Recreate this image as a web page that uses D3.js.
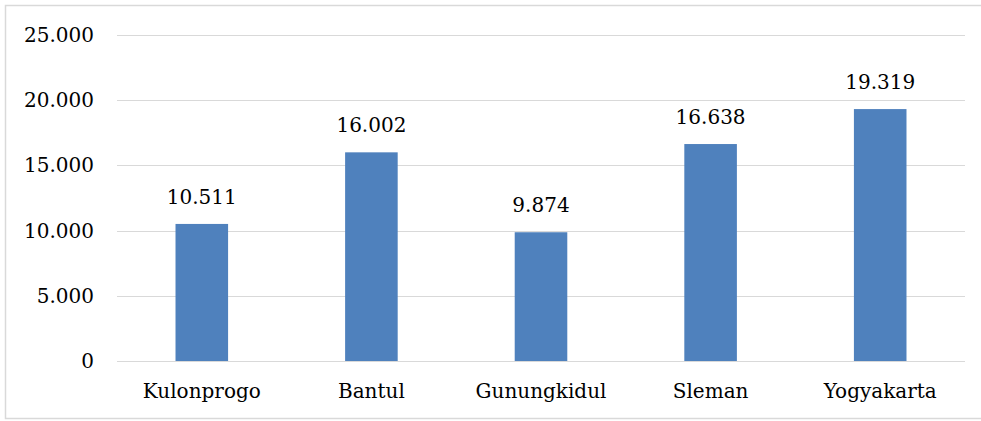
<html>
<head>
  <meta charset="utf-8">
  <script src="https://cdnjs.cloudflare.com/ajax/libs/d3/7.8.5/d3.min.js"></script>
  <style>
    body { margin: 0; background: #fff; }
    text { font-family: "DejaVu Serif", serif; font-size: 20px; fill: #000; }
    .grid line { stroke: #d9d9d9; stroke-width: 1px; }
    .bar { fill: #4f81bd; }
  </style>
</head>
<body>
  <svg id="chart" width="981" height="421"></svg>
  <script>
    var categories = ["Kulonprogo", "Bantul", "Gunungkidul", "Sleman", "Yogyakarta"];
    var values = [10511, 16002, 9874, 16638, 19319];
    var yTicks = [0, 5000, 10000, 15000, 20000, 25000];

    var svg = d3.select("#chart");
    var m = { left: 117, right: 965, top: 35, bottom: 361 };

    // outer frame
    svg.append("rect")
      .attr("x", 5.5).attr("y", 5.5)
      .attr("width", 990).attr("height", 413)
      .attr("fill", "none").attr("stroke", "#d9d9d9").attr("stroke-width", 1.5);

    var x = d3.scaleBand().domain(categories).range([m.left, m.right]).padding(0);
    var y = d3.scaleLinear().domain([0, 25000]).range([m.bottom, m.top]);
    var fmt = d => d3.format(",")(d).replace(/,/g, ".");

    svg.append("g").attr("class", "grid")
      .selectAll("line").data(yTicks).enter().append("line")
      .attr("x1", m.left).attr("x2", m.right)
      .attr("y1", d => Math.round(y(d)) + 0.5)
      .attr("y2", d => Math.round(y(d)) + 0.5);

    svg.append("g").selectAll("text").data(yTicks).enter().append("text")
      .attr("x", 94).attr("y", d => y(d))
      .attr("dy", "0.35em")
      .attr("text-anchor", "end")
      .text(fmt);

    var bw = x.bandwidth() * 0.31;
    var data = categories.map((c, i) => ({ c: c, v: values[i] }));

    svg.append("g").selectAll("rect").data(data).enter().append("rect")
      .attr("class", "bar")
      .attr("x", d => x(d.c) + x.bandwidth() / 2 - bw / 2)
      .attr("width", bw)
      .attr("y", d => y(d.v))
      .attr("height", d => y(0) - y(d.v));

    svg.append("g").selectAll("text").data(data).enter().append("text")
      .attr("x", d => x(d.c) + x.bandwidth() / 2)
      .attr("y", d => y(d.v) - 27)
      .attr("dy", "0.35em")
      .attr("text-anchor", "middle")
      .text(d => fmt(d.v));

    svg.append("g").selectAll("text").data(categories).enter().append("text")
      .attr("x", d => x(d) + x.bandwidth() / 2)
      .attr("y", 391)
      .attr("dy", "0.35em")
      .attr("text-anchor", "middle")
      .text(d => d);
  </script>
</body>
</html>
